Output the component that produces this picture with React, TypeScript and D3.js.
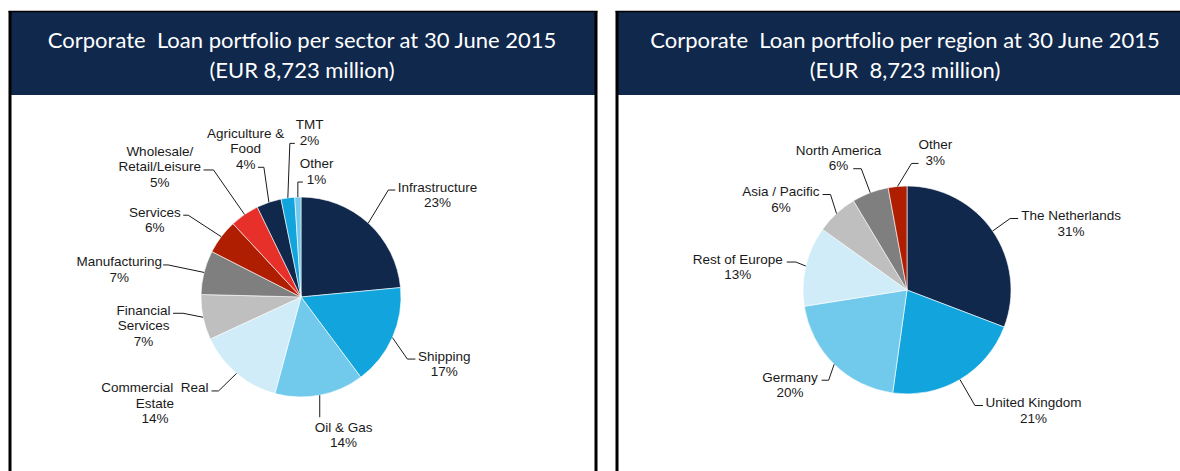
import * as d3 from 'd3';
import React, { useEffect, useRef } from 'react';

// sector chart
const sectorNames = ['Infrastructure', 'Shipping', 'Oil & Gas', 'Commercial  Real\nEstate', 'Financial\nServices', 'Manufacturing', 'Services', 'Wholesale/\nRetail/Leisure', 'Agriculture &\nFood', 'TMT', 'Other'];
const sectorShares = [23.5, 16.3, 14.4, 13.9, 7.3, 7.1, 5.6, 4.7, 4.0, 2.2, 1.0];
const sectorPct = ['23%', '17%', '14%', '14%', '7%', '7%', '6%', '5%', '4%', '2%', '1%'];

// region chart
const regionNames = ['The Netherlands', 'United Kingdom', 'Germany', 'Rest of Europe', 'Asia / Pacific', 'North America', 'Other'];
const regionShares = [30.8, 21.4, 20.3, 12.4, 6.5, 5.7, 2.9];
const regionPct = ['31%', '21%', '20%', '13%', '6%', '6%', '3%'];

const NAVY = '#0f284c';
const sectorColors = [NAVY, '#12a5dd', '#71c9eb', '#d0ecf8', '#bfbfbf', '#7f7f7f', '#b01e02', '#e8302a', NAVY, '#12a5dd', '#71c9eb'];
const regionColors = [NAVY, '#12a5dd', '#71c9eb', '#d0ecf8', '#bfbfbf', '#7f7f7f', '#b01e02'];

// leader line nudges: elbow offset from slice edge, horizontal run, which text line it meets
type Lay = { dx: number; dy: number; h: number; line: number; gap?: number; below?: boolean };
const sectorLayout: Lay[] = [
  { dx: 20, dy: -33, h: 7, line: 0 },
  { dx: 15, dy: 21.5, h: 8, line: 0 },
  { dx: 0, dy: 22, h: 0, line: 0, below: true },
  { dx: -18, dy: 17.5, h: -7, line: 0, gap: 3 },
  { dx: -20, dy: -4, h: -10, line: 0 },
  { dx: -36, dy: -7.5, h: -5, line: 0, gap: 1 },
  { dx: -33, dy: -21.5, h: -5, line: 0 },
  { dx: -31, dy: -44.5, h: -10, line: 1 },
  { dx: -5, dy: -35, h: -6, line: 2 },
  { dx: 2, dy: -54.5, h: 5, line: 1, gap: 5 },
  { dx: 0, dy: -15, h: 5, line: 1, gap: 4 },
];
const regionLayout: Lay[] = [
  { dx: 17.5, dy: -12.5, h: 8, line: 0, gap: 3 },
  { dx: 15, dy: 26, h: 8, line: 0 },
  { dx: -5.5, dy: 16, h: -7, line: 0, gap: 4 },
  { dx: -10, dy: -4, h: -9, line: 0, gap: 4 },
  { dx: -6, dy: -19, h: -8, line: 0, gap: 3 },
  { dx: -9, dy: -24, h: -8, line: 1, gap: 5 },
  { dx: 14, dy: -23, h: 7, line: 1, gap: 7 },
];

const panels = [
  {
    x0: 10, x1: 596, tx: 302,
    title: ['Corporate  Loan portfolio per sector at 30 June 2015', '(EUR 8,723 million)'],
    cx: 301, cy: 297, r: 100,
    names: sectorNames, shares: sectorShares, pct: sectorPct, colors: sectorColors, layout: sectorLayout,
  },
  {
    x0: 617, x1: 1203, tx: 905,
    title: ['Corporate  Loan portfolio per region at 30 June 2015', '(EUR  8,723 million)'],
    cx: 907, cy: 290, r: 104,
    names: regionNames, shares: regionShares, pct: regionPct, colors: regionColors, layout: regionLayout,
  },
];

export default function App() {
  const ref = useRef<SVGSVGElement>(null);

  useEffect(() => {
    drawChart();
  }, []);

  function drawChart() {
    const svg = d3.select(ref.current);
    svg.selectAll('*').remove();

    panels.forEach((p) => {
      const g = svg.append('g');

      // header band + frame
      g.append('rect')
        .attr('x', p.x0)
        .attr('y', 12)
        .attr('width', p.x1 - p.x0)
        .attr('height', 83)
        .attr('fill', NAVY);
      g.append('line')
        .attr('x1', p.x0 - 1.5).attr('x2', p.x1 + 1.5)
        .attr('y1', 11.5).attr('y2', 11.5)
        .attr('stroke', '#000').attr('stroke-width', 1.5);
      [p.x0, p.x1].forEach((x) => {
        g.append('line')
          .attr('x1', x).attr('x2', x)
          .attr('y1', 11).attr('y2', 471)
          .attr('stroke', '#000').attr('stroke-width', 3);
      });

      p.title.forEach((t, i) => {
        g.append('text')
          .attr('x', p.tx)
          .attr('y', 48 + i * 30)
          .attr('text-anchor', 'middle')
          .attr('fill', '#fff')
          .style('font-family', 'Lato, "Open Sans", sans-serif')
          .style('font-size', '22px')
          .style('white-space', 'pre')
          .text(t);
      });

      const pie = d3.pie<number>().sort(null).value((d) => d);
      const arcs = pie(p.shares);
      const arc = d3.arc<d3.PieArcDatum<number>>().innerRadius(0).outerRadius(p.r);
      const edge = d3.arc<d3.PieArcDatum<number>>().innerRadius(p.r).outerRadius(p.r);

      const pg = g.append('g').attr('transform', `translate(${p.cx},${p.cy})`);
      pg.selectAll('path.slice')
        .data(arcs)
        .enter()
        .append('path')
        .attr('class', 'slice')
        .attr('d', arc)
        .attr('fill', (_d, i) => p.colors[i])
        .attr('stroke', '#fff')
        .attr('stroke-width', 0.6);

      // labels with leader lines
      arcs.forEach((a, i) => {
        const lay = p.layout[i];
        const [ex, ey] = edge.centroid(a);
        const bx = ex + lay.dx;
        const by = ey + lay.dy;
        const hx = bx + lay.h;
        pg.append('path')
          .attr('d', `M${ex},${ey}L${bx},${by}L${hx},${by}`)
          .attr('fill', 'none')
          .attr('stroke', '#1a1a1a')
          .attr('stroke-width', 1);

        const lines = [...p.names[i].split('\n'), p.pct[i]];
        const lh = 15.5;
        const texts = lines.map((l) =>
          pg.append('text')
            .attr('text-anchor', 'middle')
            .attr('fill', '#1a1a1a')
            .style('font-family', '"Liberation Sans", Arial, sans-serif')
            .style('font-size', '13.5px')
            .style('white-space', 'pre')
            .text(l),
        );
        const w = (texts[lay.below ? 0 : lay.line].node() as SVGTextElement).getComputedTextLength();
        const gap = lay.gap ?? 2.5;
        let tx: number;
        let base: number;
        if (lay.below) {
          tx = bx - 5 + w / 2;
          base = by + 14.5;
        } else {
          tx = lay.h >= 0 ? hx + gap + w / 2 : hx - gap - w / 2;
          base = by + 1.5 - lay.line * lh;
        }
        texts.forEach((t, k) => t.attr('x', tx).attr('y', base + k * lh));
      });
    });
  }

  return (
    <svg
      ref={ref}
      width={1180}
      height={471}
      style={{ position: 'absolute', left: 0, top: 0, background: '#fff' }}
    />
  );
}
